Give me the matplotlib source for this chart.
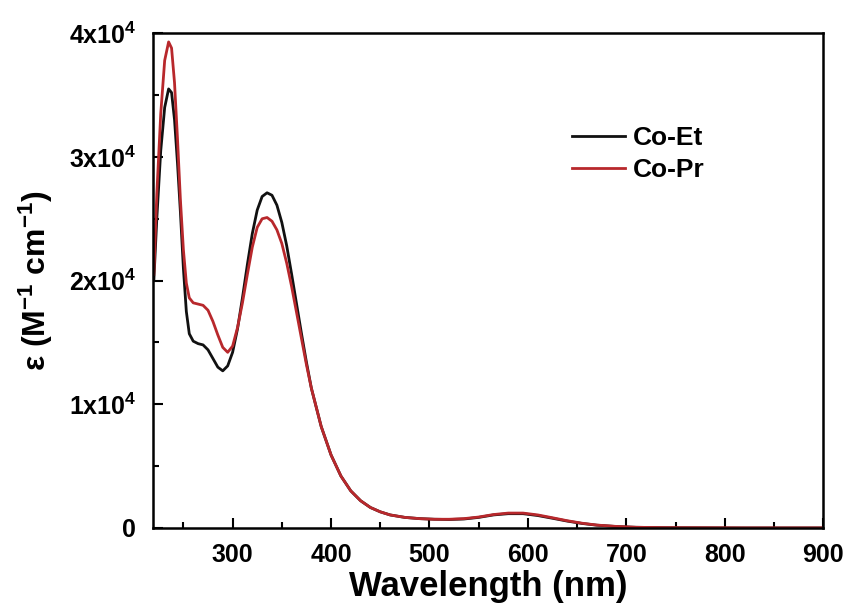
import matplotlib
matplotlib.use("Agg")
import matplotlib.pyplot as plt
from matplotlib.ticker import MultipleLocator

plt.rcParams['font.family'] = ['Liberation Sans', 'DejaVu Sans']
plt.rcParams['font.weight'] = 'bold'
plt.rcParams['mathtext.fontset'] = 'custom'
plt.rcParams['mathtext.rm'] = 'Liberation Sans:bold'
plt.rcParams['mathtext.bf'] = 'Liberation Sans:bold'
plt.rcParams['mathtext.default'] = 'bf'

# wavelength (nm) and molar absorptivity
wl = [220, 223, 227, 231, 235, 238, 241, 244, 247, 250, 253, 256, 260, 265,
      270, 275, 280, 285, 290, 295, 300, 305, 310, 315, 320, 325, 330, 335,
      340, 345, 350, 355, 360, 365, 370, 375, 380, 390, 400, 410, 420, 430,
      440, 450, 460, 475, 490, 505, 520, 535, 550, 565, 580, 595, 610, 625,
      640, 655, 670, 690, 710, 740, 780, 820, 860, 900]

co_et = [20000, 25000, 30500, 34000, 35500, 35200, 33000, 29500, 25500, 21000,
         17500, 15700, 15100, 14900, 14800, 14400, 13700, 13000, 12700, 13100,
         14200, 16100, 18600, 21300, 23800, 25700, 26800, 27100, 26900, 26100,
         24700, 22800, 20500, 18100, 15700, 13400, 11300, 8200, 5900, 4200,
         3000, 2200, 1650, 1300, 1050, 850, 750, 700, 680, 720, 850, 1050,
         1150, 1150, 1000, 780, 550, 360, 220, 110, 50, 20, 10, 0, 0, 0]

co_pr = [20500, 27000, 33500, 37800, 39300, 38800, 36000, 31500, 26500, 22500,
         19800, 18600, 18200, 18100, 18000, 17600, 16700, 15600, 14600, 14200,
         14700, 16200, 18200, 20500, 22700, 24300, 25000, 25100, 24800, 24100,
         23000, 21400, 19500, 17400, 15300, 13200, 11300, 8200, 5900, 4200,
         3000, 2200, 1650, 1300, 1050, 850, 750, 700, 700, 750, 880, 1080,
         1200, 1200, 1050, 820, 580, 380, 230, 120, 50, 20, 10, 0, 0, 0]

y_ticks = [0, 10000, 20000, 30000, 40000]
y_labels = ['0', r'1x10$^4$', r'2x10$^4$', r'3x10$^4$', r'4x10$^4$']

fig = plt.figure(figsize=(8.54, 6.16), dpi=100)
ax = fig.add_axes([0.179, 0.143, 0.785, 0.803])

ax.plot(wl, co_et, color='#111111', lw=2.0, label='Co-Et')
ax.plot(wl, co_pr, color='#b8282c', lw=2.0, label='Co-Pr')

ax.set_xlim(219, 900)
ax.set_ylim(0, 40000)
ax.xaxis.set_major_locator(MultipleLocator(100))
ax.xaxis.set_minor_locator(MultipleLocator(50))
ax.set_yticks(y_ticks)
ax.set_yticklabels(y_labels)
ax.yaxis.set_minor_locator(MultipleLocator(5000))

ax.tick_params(which='both', direction='in', width=1.5, labelsize=18)
ax.tick_params(which='major', length=7)
ax.tick_params(which='minor', length=4)
ax.tick_params(axis='x', which='major', pad=11)
ax.tick_params(axis='y', which='major', pad=12)
for s in ax.spines.values():
    s.set_linewidth(1.8)

ax.set_xlabel('Wavelength (nm)', fontsize=25, fontweight='bold', labelpad=2)
ax.set_ylabel(r'ε (M$^{-1}$ cm$^{-1}$)', fontsize=23, fontweight='bold', labelpad=10)

ax.legend(loc='upper left', bbox_to_anchor=(0.59, 0.86), frameon=False,
          fontsize=19, handlelength=2.0, handletextpad=0.3, labelspacing=0.3)

fig.savefig('out.png', dpi=100)
